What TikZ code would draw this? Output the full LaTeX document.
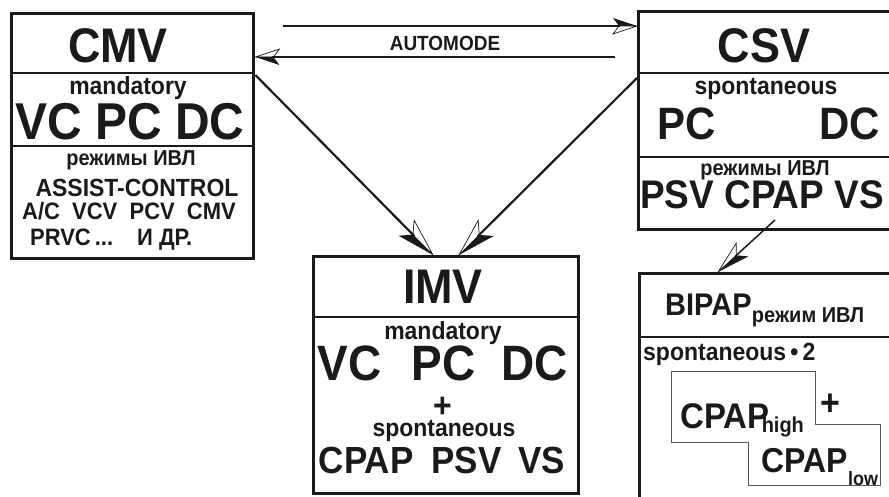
\documentclass[tikz,border=0pt]{standalone}
\usepackage{fontspec}
\setmainfont{Liberation Sans}[FakeStretch=0.925]
\usepackage{tikz}
\usetikzlibrary{positioning,arrows.meta,calc}
\definecolor{cLine}{HTML}{1a1a1a}
\definecolor{cThin}{HTML}{555555}

\newcommand{\fsz}[1]{\fontsize{\fpeval{1.08*#1}}{\fpeval{1.08*#1}}\selectfont\bfseries}

% half filled arrow tip: black on one side of the line, outlined on the other
\newcommand{\declhalf}[3]{%
\pgfdeclarearrow{
  name=#1,
  defaults={length=22pt,width=14pt},
  parameters={\the\pgfarrowlength,\the\pgfarrowwidth},
  setup code={
    \pgfarrowssettipend{0pt}
    \pgfarrowssetlineend{-.7\pgfarrowlength}
    \pgfarrowsupperhullpoint{-\pgfarrowlength}{.5\pgfarrowwidth}
    \pgfarrowsupperhullpoint{0pt}{0pt}
    \pgfarrowssavethe\pgfarrowlength
    \pgfarrowssavethe\pgfarrowwidth
  },
  drawing code={
    \pgfsetdash{}{0pt}
    \pgfpathmoveto{\pgfpointorigin}
    \pgfpathlineto{\pgfpoint{-\pgfarrowlength}{#2.5\pgfarrowwidth}}
    \pgfpathlineto{\pgfpoint{-.75\pgfarrowlength}{0pt}}
    \pgfpathclose
    \pgfusepathqfill
    \pgfsetlinewidth{.7pt}
    \pgfsetmiterjoin
    \pgfpathmoveto{\pgfpointorigin}
    \pgfpathlineto{\pgfpoint{-\pgfarrowlength}{#3.5\pgfarrowwidth}}
    \pgfpathlineto{\pgfpoint{-.75\pgfarrowlength}{0pt}}
    \pgfpathclose
    \pgfusepathqstroke
  }
}}
\declhalf{HalfL}{}{-}
\declhalf{HalfR}{-}{}

\begin{document}
\begin{tikzpicture}[x=1pt,y=-1pt,
  box/.style={draw=cLine,line width=3.4pt,fill=white,anchor=north west,inner sep=0pt},
  ibox/.style={fill=white,anchor=north west,inner sep=0pt},
  divl/.style={draw=cLine,line width=1.2pt},
  thinl/.style={draw=cThin,line width=.9pt},
  txt/.style={anchor=base,inner sep=0pt,text=cLine},
  conn/.style={draw=cLine,line width=2.2pt},
  slim/.style={draw=cLine,line width=1.5pt}]
\useasboundingbox (0,0) rectangle (889,497);
\clip (0,0) rectangle (889,497);

% boxes
\node[box,minimum width=242pt,minimum height=245pt] (cmv) at (10,12) {};
\node[box,minimum width=300pt,minimum height=218pt] (csv) at (637,10) {};
\node[box,minimum width=265pt,minimum height=237pt] (imv) at (312,255) {};
\node[box,minimum width=300pt,minimum height=260pt] (bipap) at (638,272) {};
\foreach \b/\d in {cmv/61,cmv/134,csv/63,csv/147,imv/62,bipap/65}
  \draw[divl] ([yshift=-\d pt]\b.north west) -- ([yshift=-\d pt]\b.north east);

% CMV
\node[txt,font={\fsz{45}}] (cmvT) at (118,63) {CMV};
\node[txt,font={\fsz{23}}] (cmvM) at (128,95) {mandatory};
\node[txt,font={\fsz{48}}] (cmvC) at (130,140) {VC PC DC};
\node[txt,font={\fsz{20}}] (cmvR) at (131,166) {режимы ИВЛ};
\node[txt,font={\fsz{23}}] (cmvA) at (137,197) {ASSIST-CONTROL};
\node[txt,font={\fsz{22}}] (cmvL) at (129,220) {A/C\ \ VCV\ \ PCV\ \ CMV};
\node[txt,font={\fsz{22}},anchor=base west] (cmvP) at (30,246) {PRVC\,...};
\node[txt,font={\fsz{22}},anchor=base west] (cmvD) at (137,246) {И ДР.};

% CSV
\node[txt,font={\fsz{45}}] (csvT) at (764,63) {CSV};
\node[txt,font={\fsz{23}}] (csvS) at (766,95) {spontaneous};
\node[txt,font={\fsz{42}},anchor=base west] (csvP) at (657,140) {PC};
\node[txt,font={\fsz{42}},anchor=base east] (csvD) at (880,140) {DC};
\node[txt,font={\fsz{20}}] (csvR) at (765,176) {режимы ИВЛ};
\node[txt,font={\fsz{37}}] (csvL) at (762,209) {PSV CPAP VS};

% IMV
\node[txt,font={\fsz{45}}] (imvT) at (443,303) {IMV};
\node[txt,font={\fsz{23}}] (imvM) at (443,339) {mandatory};
\node[txt,font={\fsz{46}}] (imvC) at (443,380) {VC\hspace{30pt}PC\hspace{26pt}DC};
\node[txt,font={\fsz{32}},anchor=center] (imvP) at (443,407) {+};
\node[txt,font={\fsz{23}}] (imvS) at (444,436) {spontaneous};
\node[txt,font={\fsz{35}}] (imvL) at (442,473) {CPAP\hspace{18pt}PSV\hspace{17pt}VS};

% BIPAP
\node[txt,font={\fsz{29}},anchor=base west] (bipT) at (665,315) {BIPAP};
\node[txt,font={\fsz{20}},anchor=base west] (bipS) at ([yshift=-7pt]bipT.base east) {режим ИВЛ};
\node[txt,font={\fsz{23}},anchor=base west] (bipN) at (643,360) {spontaneous\,•\,2};
\node[ibox,minimum width=132pt,minimum height=61pt] (lowb) at (748,424) {};
\node[ibox,minimum width=144pt,minimum height=71pt] (highb) at (671,371) {};
\draw[thinl] (highb.north west) -- (highb.north east) -- (highb.east |- lowb.north)
  -- (lowb.north east) -- (lowb.south east) -- (lowb.south west)
  -- (lowb.west |- highb.south) -- (highb.south west) -- cycle;
\node[txt,font={\fsz{33}},anchor=base west] (hiT) at (680,428) {CPAP};
\node[txt,font={\fsz{20}},anchor=base west] (hiS) at ([shift={(-8pt,-4pt)}]hiT.base east) {high};
\node[txt,font={\fsz{34}},anchor=center] (bipP) at (830,405) {+};
\node[txt,font={\fsz{32}},anchor=base west] (loT) at (761,472) {CPAP};
\node[txt,font={\fsz{18}},anchor=base west] (loS) at ([yshift=-13pt]loT.base east) {low};

% connectors
\node[txt,font={\fsz{19}},anchor=center] (auto) at (445,43) {AUTOMODE};
\draw[slim,-{HalfL[length=24pt,width=16pt]}] ([shift={(28pt,-14pt)}]cmv.north east) -- ([yshift=-16pt]csv.north west);
\draw[slim,-{HalfL[length=24pt,width=16pt]}] ([shift={(-22pt,-47pt)}]csv.north west) -- ([yshift=-45pt]cmv.north east);
\draw[conn,-{HalfR[length=38pt,width=22pt]}] ([yshift=-63pt]cmv.north east) -- ([xshift=121pt]imv.north west);
\draw[conn,-{HalfL[length=38pt,width=22pt]}] ([yshift=-68pt]csv.north west) -- ([xshift=147pt]imv.north west);
\draw[slim,-{HalfL[length=33pt,width=18pt]}] ([shift={(138pt,-210pt)}]csv.north west) -- ([xshift=80pt]bipap.north west);
\end{tikzpicture}
\end{document}
